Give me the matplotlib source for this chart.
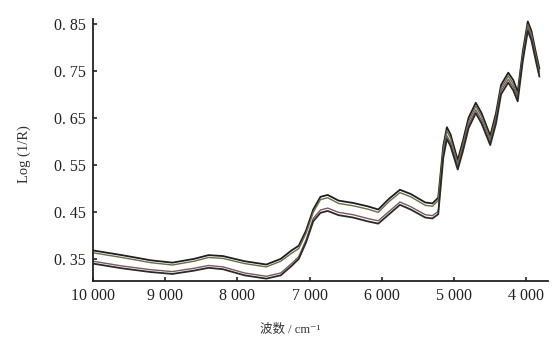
import matplotlib
matplotlib.use("Agg")
import matplotlib.pyplot as plt

# wavenumber (cm-1)
wn = [10000, 9600, 9200, 8900, 8600, 8400, 8200, 7900, 7600, 7400, 7250, 7150,
      7050, 6950, 6850, 6750, 6600, 6400, 6200, 6050, 5900, 5750, 5600, 5400,
      5300, 5220, 5150, 5100, 5050, 4950, 4880, 4800, 4700, 4620, 4500, 4420,
      4350, 4250, 4180, 4120, 4050, 3980, 3930, 3870, 3820]

spec_a = [0.368, 0.358, 0.347, 0.342, 0.350, 0.358, 0.356, 0.345, 0.338, 0.350,
          0.368, 0.378, 0.410, 0.455, 0.482, 0.486, 0.474, 0.469, 0.462, 0.455,
          0.478, 0.497, 0.488, 0.470, 0.468, 0.480, 0.590, 0.630, 0.615, 0.560,
          0.600, 0.650, 0.682, 0.660, 0.612, 0.660, 0.720, 0.746, 0.730, 0.705,
          0.790, 0.855, 0.835, 0.790, 0.755]
spec_b = [0.363, 0.353, 0.342, 0.337, 0.345, 0.353, 0.351, 0.340, 0.333, 0.345,
          0.362, 0.372, 0.404, 0.449, 0.476, 0.480, 0.468, 0.463, 0.456, 0.449,
          0.472, 0.491, 0.482, 0.464, 0.462, 0.474, 0.582, 0.622, 0.607, 0.553,
          0.592, 0.642, 0.675, 0.653, 0.605, 0.652, 0.713, 0.739, 0.722, 0.697,
          0.782, 0.848, 0.828, 0.783, 0.749]
spec_c = [0.340, 0.330, 0.322, 0.318, 0.325, 0.331, 0.328, 0.315, 0.308, 0.315,
          0.335, 0.350, 0.385, 0.430, 0.448, 0.452, 0.443, 0.438, 0.430, 0.425,
          0.445, 0.465, 0.455, 0.438, 0.436, 0.445, 0.565, 0.605, 0.590, 0.540,
          0.578, 0.628, 0.660, 0.638, 0.592, 0.638, 0.700, 0.725, 0.708, 0.685,
          0.770, 0.835, 0.815, 0.772, 0.738]
spec_d = [0.345, 0.335, 0.327, 0.323, 0.330, 0.336, 0.333, 0.320, 0.313, 0.320,
          0.340, 0.355, 0.390, 0.436, 0.454, 0.458, 0.449, 0.444, 0.436, 0.431,
          0.451, 0.471, 0.461, 0.444, 0.442, 0.451, 0.572, 0.612, 0.597, 0.546,
          0.585, 0.635, 0.667, 0.645, 0.598, 0.645, 0.707, 0.732, 0.715, 0.692,
          0.777, 0.842, 0.822, 0.778, 0.744]

xticks = [10000, 9000, 8000, 7000, 6000, 5000, 4000]
xticklabels = ["10 000", "9 000", "8 000", "7 000", "6 000", "5 000", "4 000"]
yticks = [0.35, 0.45, 0.55, 0.65, 0.75, 0.85]
yticklabels = ["0. 35", "0. 45", "0. 55", "0. 65", "0. 75", "0. 85"]

fonts = ["Liberation Serif", "DejaVu Serif", "Noto Sans CJK SC"]
plt.rcParams["font.family"] = fonts

fig = plt.figure(figsize=(5.53, 3.41), dpi=100)
ax = fig.add_axes([0.168, 0.176, 0.823, 0.768])

ax.plot(wn, spec_a, color="#1e1e1e", lw=1.3)
ax.plot(wn, spec_b, color="#6b6b4a", lw=1.0)
ax.plot(wn, spec_d, color="#7a5a5a", lw=1.0)
ax.plot(wn, spec_c, color="#2a2a2a", lw=1.3)

ax.set_xlim(10000, 3700)
ax.set_ylim(0.303, 0.86)
ax.set_xticks(xticks)
ax.set_xticklabels(xticklabels)
ax.set_yticks(yticks)
ax.set_yticklabels(yticklabels)
ax.tick_params(direction="in", length=3, width=1.2, labelsize=11.5, colors="#222222", pad=5)

for s in ["top", "right"]:
    ax.spines[s].set_visible(False)
for s in ["left", "bottom"]:
    ax.spines[s].set_linewidth(1.3)
    ax.spines[s].set_color("#222222")

ax.set_ylabel("Log (1/R)", fontsize=10.5, color="#333333")
ax.yaxis.set_label_coords(-0.137, 0.485)
ax.set_xlabel("波数 / cm⁻¹", fontsize=9, color="#333333")
ax.xaxis.set_label_coords(0.433, -0.165)

fig.savefig("out.png", dpi=100)
